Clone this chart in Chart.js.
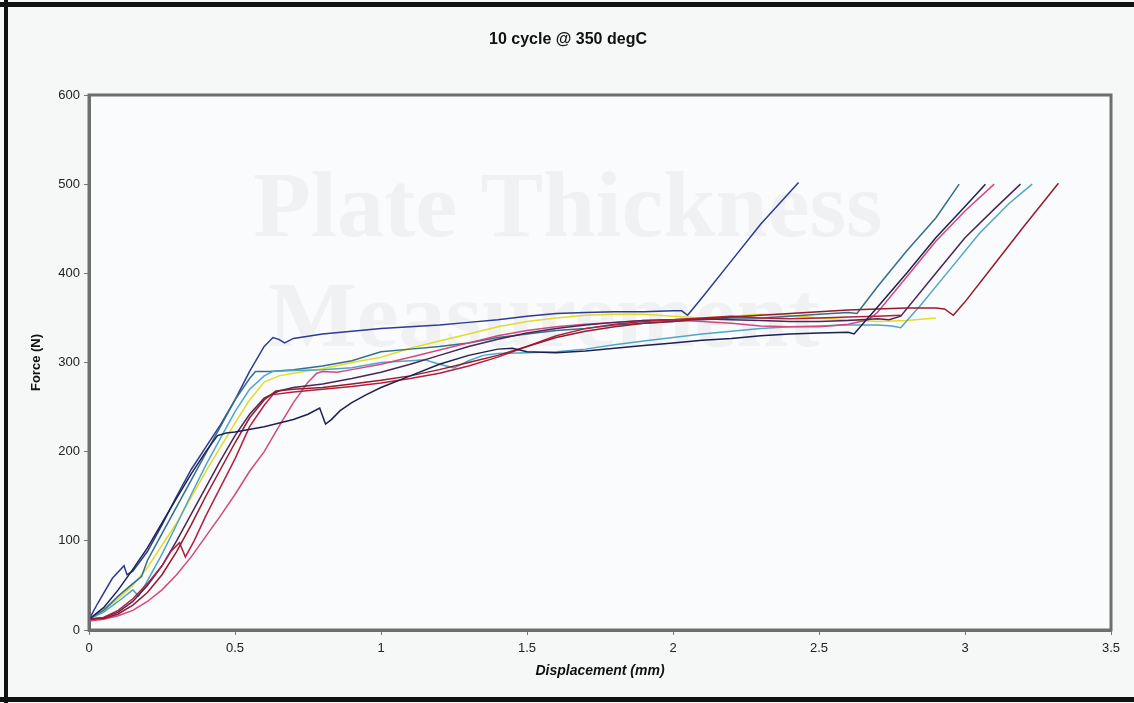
<!DOCTYPE html>
<html>
<head>
<meta charset="utf-8">
<script src="https://cdn.jsdelivr.net/npm/chart.js@4.4.1/dist/chart.umd.min.js"></script>
<style>
  html, body { margin: 0; padding: 0; background: #f6f7f7; }
  #wrap { width: 1134px; height: 703px; }
</style>
</head>
<body>
<div id="wrap"><canvas id="c" width="1134" height="703"></canvas></div>
<script>
// Force-displacement curves, 10 cycles at 350 degC (displacement in mm, force in N)
const xTicks = [0, 0.5, 1, 1.5, 2, 2.5, 3, 3.5];
const yTicks = [0, 100, 200, 300, 400, 500, 600];

const dispA  = [0,0.03,0.08,0.12,0.13,0.15,0.2,0.25,0.3,0.35,0.4,0.45,0.5,0.55,0.6,0.63,0.65,0.67,0.7,0.8,0.9,1.0,1.1,1.2,1.3,1.4,1.5,1.6,1.7,1.8,1.9,2.0,2.03,2.05,2.1,2.2,2.3,2.43];
const forceA = [12,30,58,72,62,66,88,118,150,180,205,230,258,290,318,328,326,322,327,332,335,338,340,342,345,348,352,355,356,357,357,358,358,353,373,414,455,502];

const dispB  = [0,0.05,0.1,0.15,0.18,0.2,0.25,0.3,0.35,0.4,0.45,0.5,0.55,0.57,0.62,0.7,0.8,0.9,1.0,1.1,1.2,1.3,1.4,1.5,1.6,1.7,1.8,1.9,2.0,2.1,2.2,2.3,2.4,2.5,2.6,2.63,2.7,2.8,2.9,2.98];
const forceB = [12,22,38,52,60,78,108,138,168,198,228,258,282,290,290,292,296,302,312,315,318,322,328,332,336,338,342,344,346,348,350,350,352,354,356,355,385,425,462,500];

const dispC  = [0,0.05,0.1,0.15,0.2,0.3,0.4,0.5,0.55,0.6,0.65,0.7,0.8,0.9,1.0,1.1,1.2,1.3,1.4,1.5,1.6,1.7,1.8,1.9,2.0,2.1,2.2,2.3,2.4,2.5,2.6,2.7,2.8,2.9];
const forceC = [12,22,35,50,70,120,178,232,258,278,285,288,293,300,306,316,324,332,340,346,350,353,354,354,352,350,352,354,353,350,348,346,347,350];

const dispD  = [0,0.05,0.1,0.15,0.17,0.2,0.25,0.3,0.35,0.4,0.45,0.5,0.55,0.6,0.63,0.7,0.8,0.9,1.0,1.1,1.15,1.2,1.25,1.3,1.35,1.4,1.5,1.6,1.7,1.8,1.9,2.0,2.1,2.2,2.3,2.4,2.5,2.6,2.7,2.75,2.78,2.85,2.95,3.05,3.15,3.23];
const forceD = [12,20,32,45,38,55,85,118,152,185,215,245,270,285,290,291,292,294,300,302,303,298,294,302,308,310,311,312,315,320,324,328,332,335,338,340,341,342,342,341,339,365,405,445,478,500];

const dispE  = [0,0.05,0.1,0.15,0.2,0.25,0.3,0.35,0.4,0.45,0.5,0.55,0.6,0.64,0.7,0.8,0.9,1.0,1.1,1.2,1.3,1.4,1.5,1.6,1.7,1.8,1.9,2.0,2.1,2.2,2.3,2.4,2.5,2.6,2.7,2.8,2.9,2.93,2.96,3.0,3.1,3.2,3.32];
const forceE = [12,13,18,28,42,62,88,118,150,180,210,238,258,268,270,272,276,280,285,292,300,308,318,328,335,340,344,346,349,351,353,355,357,359,360,361,361,360,353,368,410,452,501];

const dispF  = [0,0.05,0.1,0.15,0.2,0.25,0.28,0.31,0.33,0.36,0.4,0.45,0.5,0.55,0.6,0.63,0.7,0.8,0.9,1.0,1.1,1.2,1.3,1.4,1.5,1.6,1.7,1.8,1.9,2.0,2.1,2.2,2.3,2.4,2.5,2.6,2.7,2.78];
const forceF = [12,14,22,35,52,72,88,98,82,100,128,160,192,228,252,264,267,270,273,277,282,288,296,306,318,330,338,343,346,348,350,352,350,349,350,351,352,353];

const dispG  = [0,0.05,0.1,0.15,0.2,0.25,0.3,0.35,0.4,0.45,0.5,0.55,0.6,0.65,0.7,0.75,0.78,0.8,0.85,0.9,1.0,1.1,1.2,1.3,1.4,1.5,1.6,1.7,1.8,1.9,2.0,2.1,2.2,2.3,2.4,2.5,2.6,2.67,2.7,2.8,2.9,3.0,3.1];
const forceG = [10,12,16,22,32,45,62,82,105,128,152,178,200,228,255,278,288,290,289,292,298,306,314,322,330,336,340,343,345,347,348,346,344,341,340,340,343,348,356,396,436,470,500];

const dispH  = [0,0.05,0.1,0.15,0.2,0.25,0.3,0.35,0.4,0.44,0.47,0.5,0.6,0.7,0.75,0.79,0.81,0.83,0.86,0.9,0.95,1.0,1.1,1.2,1.3,1.4,1.45,1.5,1.6,1.7,1.8,1.9,2.0,2.1,2.2,2.3,2.4,2.5,2.6,2.62,2.7,2.8,2.9,3.0,3.07];
const forceH = [12,25,45,68,92,120,148,175,200,218,221,222,228,236,242,249,231,236,246,255,264,272,285,298,308,315,316,312,311,313,316,319,322,325,327,330,332,333,334,332,362,400,440,475,500];

const dispI  = [0,0.05,0.1,0.15,0.2,0.25,0.3,0.35,0.4,0.45,0.5,0.55,0.6,0.65,0.7,0.8,0.9,1.0,1.1,1.2,1.3,1.4,1.5,1.6,1.7,1.8,1.9,2.0,2.1,2.2,2.3,2.4,2.5,2.6,2.7,2.74,2.78,2.9,3.0,3.1,3.19];
const forceI = [12,14,20,32,50,72,100,130,160,190,218,242,260,268,272,276,282,289,298,308,318,326,333,338,342,345,347,348,349,348,347,346,346,347,349,348,352,400,440,472,500];

const seriesColors = {
  A: '#2e3a93', B: '#336f8a', C: '#e2dc26', D: '#4fa6c8', E: '#951a2c',
  F: '#b3203f', G: '#d4487a', H: '#1c2152', I: '#4a2556'
};

function pts(xs, ys) { return xs.map((x, i) => ({ x: x, y: ys[i] })); }

const curves = [
  ['H', dispH, forceH], ['E', dispE, forceE], ['F', dispF, forceF], ['I', dispI, forceI],
  ['G', dispG, forceG], ['D', dispD, forceD], ['B', dispB, forceB], ['C', dispC, forceC],
  ['A', dispA, forceA]
];

const datasets = curves.map(([k, xs, ys]) => ({
  label: k,
  data: pts(xs, ys),
  borderColor: seriesColors[k],
  borderWidth: 1.5,
  pointRadius: 0,
  showLine: true,
  fill: false,
  tension: 0
}));

// page backdrop, faint watermark, frame and heading
const decor = {
  id: 'decor',
  beforeDraw(chart) {
    const { ctx, chartArea: a } = chart;
    ctx.save();
    ctx.fillStyle = '#f6f7f7';
    ctx.fillRect(0, 0, chart.width, chart.height);
    ctx.fillStyle = '#fafbfc';
    ctx.fillRect(a.left, a.top, a.right - a.left, a.bottom - a.top);
    ctx.restore();
  },
  beforeDatasetsDraw(chart) {
    const { ctx, chartArea: a } = chart;
    ctx.save();
    ctx.beginPath();
    ctx.rect(a.left, a.top, a.right - a.left, a.bottom - a.top);
    ctx.clip();
    ctx.fillStyle = '#eff1f3';
    ctx.font = 'bold 94px "Liberation Serif", "DejaVu Serif", serif';
    ctx.textBaseline = 'alphabetic';
    ctx.textAlign = 'center';
    ctx.fillText('Plate Thickness', 568, 236);
    ctx.textAlign = 'left';
    ctx.fillText('Measurement', 268, 346);
    ctx.restore();
  },
  afterDraw(chart) {
    const { ctx, chartArea: a } = chart;
    ctx.save();
    ctx.strokeStyle = '#6f6f6f';
    ctx.lineWidth = 3;
    ctx.strokeRect(a.left, a.top, a.right - a.left, a.bottom - a.top);
    ctx.fillStyle = '#111';
    ctx.fillRect(0, 2, chart.width, 5);
    ctx.fillRect(4, 0, 4, chart.height);
    ctx.fillRect(0, 697, chart.width, 5);
    ctx.fillStyle = '#111';
    ctx.font = 'bold 16px "Liberation Sans", Arial, sans-serif';
    ctx.textAlign = 'center';
    ctx.textBaseline = 'middle';
    ctx.fillText('10 cycle @ 350 degC', 568, 40);
    ctx.restore();
  }
};

new Chart(document.getElementById('c'), {
  type: 'scatter',
  data: { datasets },
  options: {
    responsive: false,
    devicePixelRatio: 1,
    animation: false,
    layout: { padding: { left: 0, top: 95, right: 23, bottom: 0 } },
    plugins: { legend: { display: false }, tooltip: { enabled: false }, title: { display: false } },
    scales: {
      x: {
        type: 'linear', min: 0, max: 3.5,
        afterBuildTicks: s => { s.ticks = xTicks.map(v => ({ value: v })); },
        afterFit: s => { s.height = 73; },
        ticks: { color: '#222', font: { size: 13, family: '"Liberation Sans", Arial, sans-serif' }, padding: 6, maxRotation: 0,
                 callback: v => String(v) },
        grid: { drawOnChartArea: false, drawTicks: true, tickLength: 5, color: '#777', lineWidth: 1 },
        border: { display: true, color: '#6f6f6f', width: 3 },
        title: { display: true, text: 'Displacement (mm)', color: '#111',
                 font: { size: 14, weight: 'bold', style: 'italic', family: '"Liberation Sans", Arial, sans-serif' },
                 padding: { top: 0, bottom: 23 } }
      },
      y: {
        type: 'linear', min: 0, max: 600,
        afterBuildTicks: s => { s.ticks = yTicks.map(v => ({ value: v })); },
        afterFit: s => { s.width = 89; },
        ticks: { color: '#222', font: { size: 13, family: '"Liberation Sans", Arial, sans-serif' }, padding: 4 },
        grid: { drawOnChartArea: false, drawTicks: true, tickLength: 5, color: '#777', lineWidth: 1 },
        border: { display: true, color: '#6f6f6f', width: 3 },
        title: { display: true, text: 'Force (N)', color: '#111',
                 font: { size: 13, weight: 'bold', family: '"Liberation Sans", Arial, sans-serif' },
                 padding: { top: 29, bottom: 0 } }
      }
    }
  },
  plugins: [decor]
});
</script>
</body>
</html>
